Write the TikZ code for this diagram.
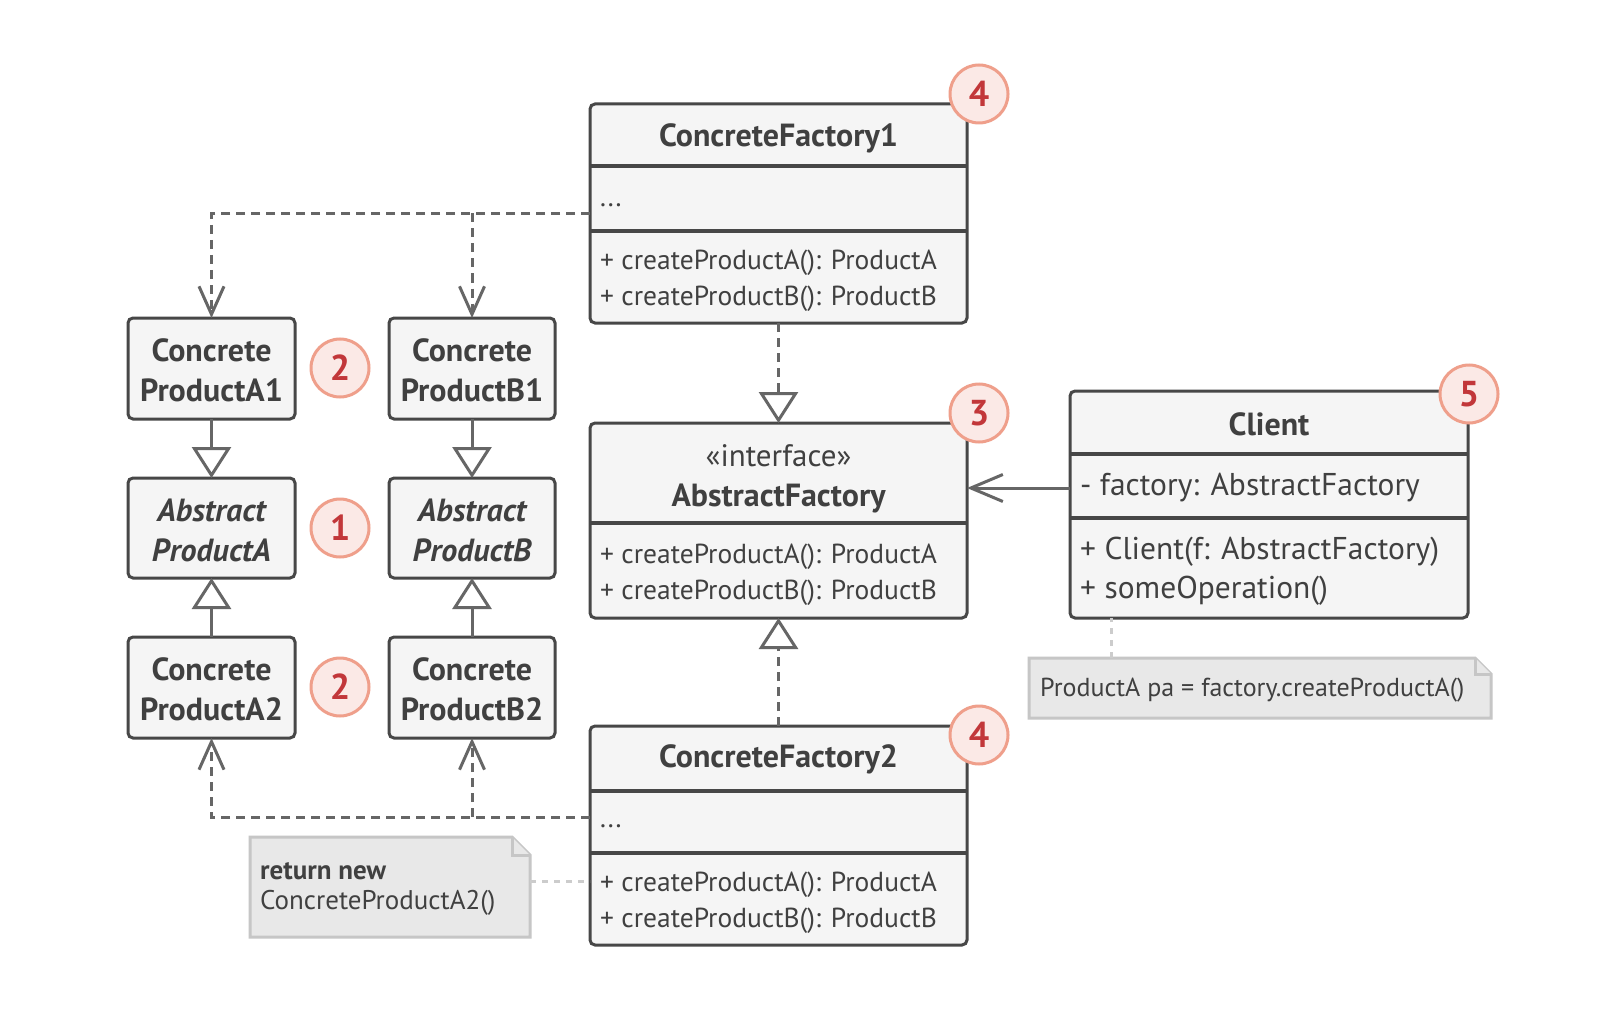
\documentclass[tikz,border=0pt]{standalone}
\usepackage{fontspec}
\setmainfont{PT Sans}
\usetikzlibrary{arrows.meta}
\definecolor{txtc}{HTML}{404040}
\definecolor{boxc}{HTML}{474747}
\definecolor{boxf}{HTML}{F5F5F5}
\definecolor{linec}{HTML}{666666}
\definecolor{badgef}{HTML}{FBE9E6}
\definecolor{badgeb}{HTML}{EF9F8B}
\definecolor{badget}{HTML}{C2373A}
\definecolor{notef}{HTML}{E8E8E8}
\definecolor{noteb}{HTML}{C6C6C6}
\begin{document}
\begin{tikzpicture}[x=1pt,y=-1pt,
  cls/.style={draw=boxc, fill=boxf, line width=3pt, rounded corners=5pt, inner sep=0pt, outer sep=0pt},
  div/.style={draw=boxc, line width=4pt},
  ttl/.style={font=\fontsize{32}{40}\selectfont\bfseries, text=txtc, align=center, inner sep=0pt},
  ittl/.style={font=\fontsize{32}{40}\selectfont\bfseries\itshape, text=txtc, align=center, inner sep=0pt},
  mem/.style={font=\fontsize{27.5}{36}\selectfont, text=txtc, align=left, anchor=west, inner sep=0pt},
  conn/.style={draw=linec, line width=3pt},
  dep/.style={conn, dash pattern=on 9pt off 6pt},
  barb/.style={-{Straight Barb[length=28pt,width=25pt]}},
  tri/.style={-{Triangle[length=31pt,width=39pt,fill=white]}},
  badge/.style={circle, minimum size=58pt, inner sep=0pt, draw=badgeb, fill=badgef, line width=3pt, text=badget, font=\fontsize{36}{36}\selectfont\bfseries},
  notebox/.style={inner sep=0pt, outer sep=0pt},
  notetxt/.style={font=\fontsize{27}{30}\selectfont, text=txtc, align=left, anchor=west, inner sep=0pt},
  noteline/.style={draw=noteb!90!white, line width=3pt, dash pattern=on 6pt off 6pt},
  notedraw/.style={draw=noteb, fill=notef, line width=3pt, line join=miter}
]
\useasboundingbox[fill=white] (0,0) rectangle (1624,1024);

% ---------- product boxes ----------
\node[cls, minimum width=167pt, minimum height=101pt] (a1) at (211.5,368.5) {};
\node[cls, minimum width=167pt, minimum height=100pt] (absa) at (211.5,528) {};
\node[cls, minimum width=167pt, minimum height=101pt] (a2) at (211.5,687.5) {};
\node[cls, minimum width=166pt, minimum height=101pt] (b1) at (472,368.5) {};
\node[cls, minimum width=166pt, minimum height=100pt] (absb) at (472,528) {};
\node[cls, minimum width=166pt, minimum height=101pt] (b2) at (472,687.5) {};
\node[ttl] (a1t) at ([yshift=-2pt]a1) {Concrete\\ProductA1};
\node[ittl] (absat) at ([yshift=-2pt]absa) {Abstract\\ProductA};
\node[ttl] (a2t) at ([yshift=-2pt]a2) {Concrete\\ProductA2};
\node[ttl] (b1t) at ([yshift=-2pt]b1) {Concrete\\ProductB1};
\node[ittl] (absbt) at ([yshift=-2pt]absb) {Abstract\\ProductB};
\node[ttl] (b2t) at ([yshift=-2pt]b2) {Concrete\\ProductB2};

% ---------- ConcreteFactory1 ----------
\node[cls, minimum width=377pt, minimum height=219pt] (cf1) at (778.5,213.5) {};
\draw[div] (cf1.west |- 0,166.5) -- (cf1.east |- 0,166.5);
\draw[div] (cf1.west |- 0,231.5) -- (cf1.east |- 0,231.5);
\node[ttl] (cf1t) at (778.5,138) {ConcreteFactory1};
\node[mem] (cf1f) at (600,205) {...};
\node[mem] (cf1o) at (600,281) {+ createProductA(): ProductA\\+ createProductB(): ProductB};

% ---------- AbstractFactory ----------
\node[cls, minimum width=377pt, minimum height=195pt] (af) at (778.5,520.5) {};
\draw[div] (af.west |- 0,523) -- (af.east |- 0,523);
\node[mem, anchor=center, font=\fontsize{31}{36}\selectfont] (afs) at (778.5,456) {«interface»};
\node[ttl] (aft) at (778.5,498) {AbstractFactory};
\node[mem] (afo) at (600,575) {+ createProductA(): ProductA\\+ createProductB(): ProductB};

% ---------- ConcreteFactory2 ----------
\node[cls, minimum width=377pt, minimum height=219pt] (cf2) at (778.5,835.5) {};
\draw[div] (cf2.west |- 0,791) -- (cf2.east |- 0,791);
\draw[div] (cf2.west |- 0,853) -- (cf2.east |- 0,853);
\node[ttl] (cf2t) at (778.5,759) {ConcreteFactory2};
\node[mem] (cf2f) at (600,826) {...};
\node[mem] (cf2o) at (600,903) {+ createProductA(): ProductA\\+ createProductB(): ProductB};

% ---------- Client ----------
\node[cls, minimum width=398pt, minimum height=227pt] (cl) at (1269,504.5) {};
\draw[div] (cl.west |- 0,454) -- (cl.east |- 0,454);
\draw[div] (cl.west |- 0,518) -- (cl.east |- 0,518);
\node[ttl] (clt) at (1269,424) {Client};
\node[mem, font=\fontsize{31.5}{40}\selectfont] (clf) at (1080,488) {- factory: AbstractFactory};
\node[mem, font=\fontsize{31.5}{39}\selectfont] (clo) at (1080,571) {+ Client(f: AbstractFactory)\\+ someOperation()};

% ---------- notes ----------
\node[notebox, minimum width=280pt, minimum height=100pt] (n1) at (390,887) {};
\draw[notedraw] (n1.north west) -- ([xshift=-18pt]n1.north east) -- ([yshift=-18pt]n1.north east) -- (n1.south east) -- (n1.south west) -- cycle;
\draw[notedraw] ([xshift=-18pt]n1.north east) -- ([xshift=-18pt,yshift=-18pt]n1.north east) -- ([yshift=-18pt]n1.north east);
\node[notetxt] (n1t) at (260,889) {\textbf{return new}\\ConcreteProductA2()};

\node[notebox, minimum width=462pt, minimum height=60pt] (n2) at (1260,688) {};
\draw[notedraw] (n2.north west) -- ([xshift=-16pt]n2.north east) -- ([yshift=-16pt]n2.north east) -- (n2.south east) -- (n2.south west) -- cycle;
\draw[notedraw] ([xshift=-16pt]n2.north east) -- ([xshift=-16pt,yshift=-16pt]n2.north east) -- ([yshift=-16pt]n2.north east);
\node[notetxt, font=\fontsize{26}{30}\selectfont] (n2t) at (1040,690) {ProductA pa = factory.createProductA()};

% ---------- connectors ----------
\coordinate (cf2w) at (590,817);
\coordinate (j1) at (b1.north |- cf1.west);
\coordinate (j2) at (b2.south |- cf2w);
\draw[dep, barb] (cf1.west) -| (a1.north);
\draw[dep, barb] (j1) -- (b1.north);
\draw[dep, barb] (cf2w) -| (a2.south);
\draw[dep, barb] (j2) -- (b2.south);
\draw[conn, tri] (a1.south) -- (absa.north);
\draw[conn, tri] (b1.south) -- (absb.north);
\draw[conn, tri] (a2.north) -- (absa.south);
\draw[conn, tri] (b2.north) -- (absb.south);
\draw[dep, tri] (cf1.south) -- (af.north);
\draw[dep, tri] (cf2.north) -- (af.south);
\draw[conn, -{Straight Barb[length=32pt,width=27pt]}] (cl.west |- 0,488) -- (af.east |- 0,488);
\draw[noteline] (n1.east |- 0,881) -- (cf2.west |- 0,881);
\draw[noteline] (n2.north -| 1111,0) -- (cl.south -| 1111,0);

% ---------- badges ----------
\node[badge] (bg4a) at (979,94) {4};
\node[badge] (bg3) at (979,413) {3};
\node[badge] (bg5) at (1469,394) {5};
\node[badge] (bg4b) at (979,735) {4};
\node[badge] (bg2a) at (340,368) {2};
\node[badge] (bg1) at (340,528) {1};
\node[badge] (bg2b) at (340,687) {2};
\end{tikzpicture}
\end{document}
